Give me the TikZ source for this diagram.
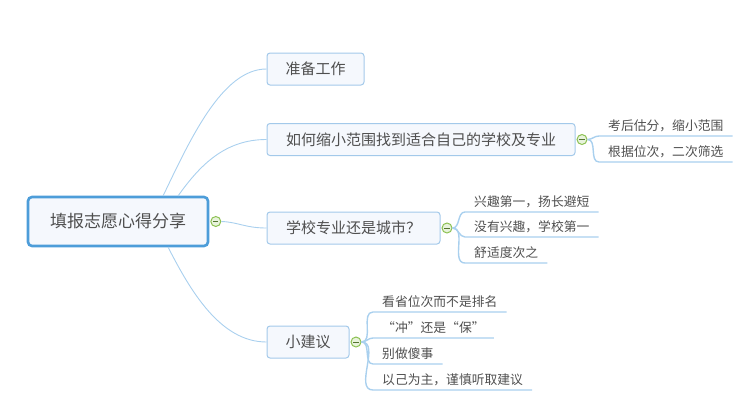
\documentclass[tikz,border=0pt]{standalone}
\usepackage{fontspec}
\setmainfont{Noto Sans CJK SC}
\definecolor{boxline}{HTML}{A3C9EA}
\definecolor{boxfill}{HTML}{F5F8FD}
\definecolor{rootline}{HTML}{4D9DD9}
\definecolor{linkblue}{HTML}{A9D0EE}
\definecolor{dotgreen}{HTML}{8CC152}
\definecolor{dotfill}{HTML}{E8F3DC}
\definecolor{txt}{HTML}{4F4F4F}

\begin{document}
\begin{tikzpicture}[x=1pt,y=-1pt,
    main/.style={draw=rootline,fill=boxfill,rounded corners=4pt,line width=2.6pt,inner sep=0pt,text=txt,font=\fontsize{17}{17}\selectfont,minimum width=180pt,minimum height=49pt},
    topic/.style={draw=boxline,fill=boxfill,rounded corners=3pt,line width=1pt,inner sep=0pt,text=txt,font=\fontsize{15}{15}\selectfont,minimum height=32pt},
    leaf/.style={anchor=south west,inner xsep=9pt,inner ysep=3pt,text height=10pt,text depth=2pt,text=txt,font=\fontsize{12.8}{13}\selectfont},
    fold/.style={circle,draw=dotgreen,fill=dotfill,line width=1pt,minimum size=10pt,inner sep=0pt,anchor=west,
      path picture={\draw[dotgreen!60!black,line width=1pt] ([xshift=-2.6pt]path picture bounding box.center)--([xshift=2.6pt]path picture bounding box.center);}},
    link/.style={draw=linkblue,line width=.9pt},
    uline/.style={draw=linkblue,line width=1.4pt}]
\useasboundingbox (0,0) rectangle (750,407);

\node[main] (root) at (118,221.5) {填报志愿心得分享};
\node[topic,minimum width=97pt] (prep) at (315.5,69) {准备工作};
\node[topic,minimum width=308pt] (narrow) at (421,139.5) {如何缩小范围找到适合自己的学校及专业};
\node[topic,minimum width=173pt] (choice) at (353.5,228) {学校专业还是城市？};
\node[topic,minimum width=82pt] (tips) at (308,342) {小建议};

\node[fold] (rootfold) at ([xshift=1pt]root.east) {};
\node[fold] (narrowfold) at ([xshift=1pt]narrow.east) {};
\node[fold] (choicefold) at ([xshift=1pt]choice.east) {};
\node[fold] (tipsfold) at ([xshift=1pt]tips.east) {};

\coordinate (r1) at (163,196);
\coordinate (r2) at (178,196);
\coordinate (r3) at (168,247);
\draw[link] (r1) .. controls (190,140) and (222,69) .. (prep.west);
\draw[link] (r2) .. controls (200,165) and (225,139.5) .. (narrow.west);
\draw[link] (rootfold.east) .. controls (238,222) and (245,228) .. (choice.west);
\draw[link] (r3) .. controls (190,290) and (220,342) .. (tips.west);

\node[leaf] (nA) at (599,136) {考后估分，缩小范围};
\node[leaf] (nB) at (599,162) {根据位次，二次筛选};
\node[leaf] (cA) at (465,212) {兴趣第一，扬长避短};
\node[leaf] (cB) at (465,237) {没有兴趣，学校第一};
\node[leaf] (cC) at (465,263) {舒适度次之};
\node[leaf] (tA) at (373,312) {看省位次而不是排名};
\node[leaf,minimum width=120pt] (tB) at (373,338) {“冲”还是“保”};
\node[leaf] (tC) at (373,364) {别做傻事};
\node[leaf] (tD) at (373,390) {以己为主，谨慎听取建议};

\foreach \f/\l in {narrowfold/nA,narrowfold/nB,choicefold/cA,choicefold/cB,choicefold/cC,tipsfold/tA,tipsfold/tB,tipsfold/tC,tipsfold/tD}
  \draw[uline] (\f.east) to[out=0,in=180] (\l.south west) -- (\l.south east);

\end{tikzpicture}
\end{document}
